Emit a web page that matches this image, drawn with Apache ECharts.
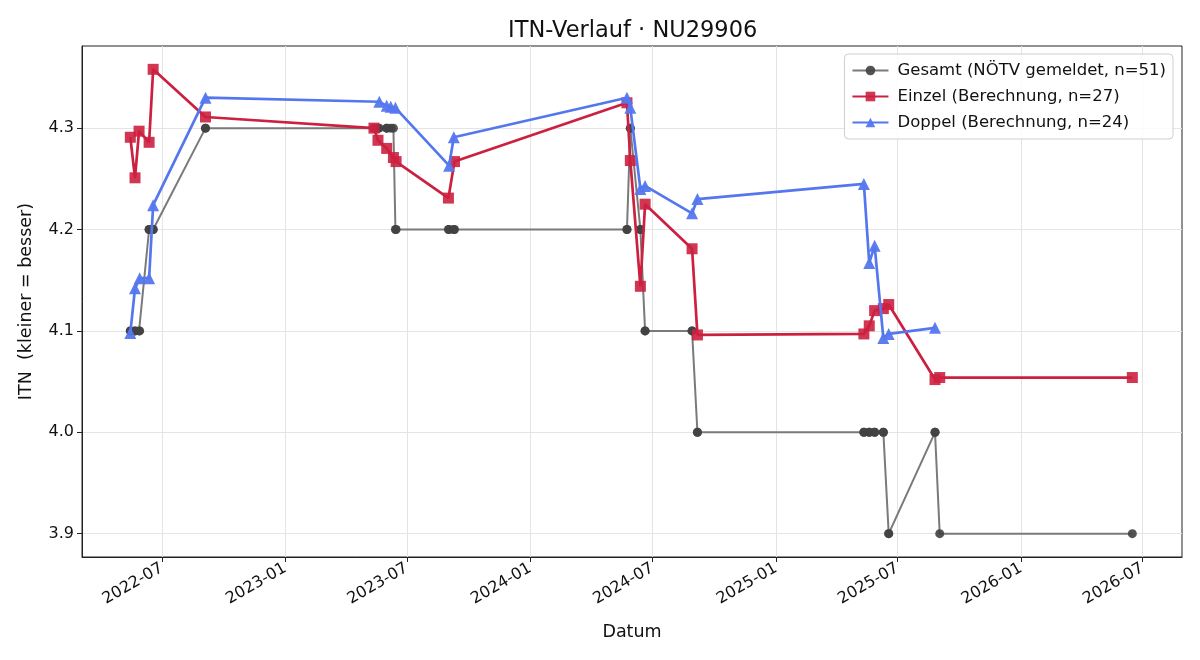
<!DOCTYPE html>
<html>
<head>
<meta charset="utf-8">
<title>ITN-Verlauf</title>
<script src="https://cdn.jsdelivr.net/npm/echarts@6/dist/echarts.min.js"></script>
<style>
  html, body { margin: 0; padding: 0; background: #fff; }
  #chart { width: 1200px; height: 660px; }
</style>
</head>
<body>
<div id="chart"></div>
<script>
// Gesamt (NÖTV gemeldet)
const gesamtDates = [
  '2022-05-15', '2022-05-15', '2022-05-22', '2022-05-22', '2022-05-28', '2022-05-29',
  '2022-06-12', '2022-06-12', '2022-06-18', '2022-06-18', '2022-09-04', '2022-09-04',
  '2023-05-13', '2023-05-19', '2023-05-21', '2023-06-01', '2023-06-01', '2023-06-07',
  '2023-06-11', '2023-06-14', '2023-06-15', '2023-09-01', '2023-09-02', '2023-09-09',
  '2023-09-10',
  '2024-05-24', '2024-05-24', '2024-05-29', '2024-05-29', '2024-06-13', '2024-06-13',
  '2024-06-20', '2024-06-20', '2024-08-29', '2024-08-29', '2024-09-06', '2024-09-06',
  '2025-05-12', '2025-05-12', '2025-05-20', '2025-05-20', '2025-05-28', '2025-05-28',
  '2025-06-10', '2025-06-10', '2025-06-18', '2025-06-18', '2025-08-26', '2025-08-26',
  '2025-09-02', '2026-06-16'
];
const gesamtValues = [
  4.1, 4.1, 4.1, 4.1, 4.1, 4.1,
  4.2, 4.2, 4.2, 4.2, 4.3, 4.3,
  4.3, 4.3, 4.3, 4.3, 4.3, 4.3,
  4.3, 4.2, 4.2, 4.2, 4.2, 4.2,
  4.2,
  4.2, 4.2, 4.3, 4.3, 4.2, 4.2,
  4.1, 4.1, 4.1, 4.1, 4.0, 4.0,
  4.0, 4.0, 4.0, 4.0, 4.0, 4.0,
  4.0, 4.0, 3.9, 3.9, 4.0, 4.0,
  3.9, 3.9
];

// Einzel (Berechnung)
const einzelDates = [
  '2022-05-15', '2022-05-22', '2022-05-28', '2022-06-12', '2022-06-18', '2022-09-04',
  '2023-05-13', '2023-05-19', '2023-06-01', '2023-06-11', '2023-06-15', '2023-09-01',
  '2023-09-10',
  '2024-05-24', '2024-05-29', '2024-06-13', '2024-06-20', '2024-08-29', '2024-09-06',
  '2025-05-12', '2025-05-20', '2025-05-28', '2025-06-10', '2025-06-18', '2025-08-26',
  '2025-09-02', '2026-06-16'
];
const einzelValues = [
  4.291, 4.251, 4.297, 4.286, 4.358, 4.311,
  4.300, 4.288, 4.280, 4.271, 4.267, 4.231,
  4.267,
  4.325, 4.268, 4.144, 4.225, 4.181, 4.096,
  4.097, 4.105, 4.120, 4.122, 4.126, 4.052,
  4.054, 4.054
];

// Doppel (Berechnung)
const doppelDates = [
  '2022-05-15', '2022-05-22', '2022-05-29', '2022-06-12', '2022-06-18', '2022-09-04',
  '2023-05-21', '2023-06-01', '2023-06-07', '2023-06-14', '2023-09-02', '2023-09-09',
  '2024-05-24', '2024-05-29', '2024-06-13', '2024-06-20', '2024-08-29', '2024-09-06',
  '2025-05-12', '2025-05-20', '2025-05-28', '2025-06-10', '2025-06-18', '2025-08-26'
];
const doppelValues = [
  4.098, 4.142, 4.152, 4.152, 4.224, 4.330,
  4.326, 4.322, 4.321, 4.320, 4.263, 4.291,
  4.330, 4.320, 4.240, 4.243, 4.216, 4.230,
  4.245, 4.167, 4.184, 4.093, 4.097, 4.103
];

const xTickDates = [
  '2022-07-01', '2023-01-01', '2023-07-01', '2024-01-01', '2024-07-01',
  '2025-01-01', '2025-07-01', '2026-01-01', '2026-07-01'
];
const yTicks = [3.9, 4.0, 4.1, 4.2, 4.3];

function ts(s) {
  return new Date(s + 'T00:00:00').getTime();
}
function pairs(dates, values) {
  return dates.map(function (d, i) { return [ts(d), values[i]]; });
}

const font = 'DejaVu Sans, Liberation Sans, sans-serif';
const xTicks = xTickDates.map(ts);

const chart = echarts.init(document.getElementById('chart'));
chart.setOption({
  animation: false,
  backgroundColor: '#fff',
  textStyle: { fontFamily: font },
  title: {
    text: 'ITN-Verlauf · NU29906',
    left: 503,
    top: 15,
    textStyle: { fontFamily: font, fontSize: 22.5, fontWeight: 'normal', color: '#111' }
  },
  legend: {
    orient: 'vertical',
    right: 27,
    top: 54,
    padding: [8, 7, 8, 7],
    itemGap: 9,
    itemWidth: 36,
    itemHeight: 12,
    borderColor: '#cfcfcf',
    borderWidth: 1,
    borderRadius: 4,
    backgroundColor: 'rgba(255,255,255,0.85)',
    textStyle: { fontFamily: font, fontSize: 16.5, color: '#111', padding: [0, 0, 0, 4] },
    data: ['Gesamt (NÖTV gemeldet, n=51)', 'Einzel (Berechnung, n=27)', 'Doppel (Berechnung, n=24)']
  },
  grid: {
    left: 82, right: 18, top: 46, bottom: 103,
    show: true, borderColor: '#222', borderWidth: 1
  },
  xAxis: {
    type: 'value',
    min: ts('2022-03-04'),
    max: ts('2026-08-29'),
    name: 'Datum',
    nameLocation: 'middle',
    nameGap: 66,
    nameTextStyle: { fontFamily: font, fontSize: 17.5, color: '#111' },
    axisLine: { show: true, lineStyle: { color: '#222' } },
    axisTick: { show: true, inside: false, length: 5, customValues: xTicks, lineStyle: { color: '#222' } },
    axisLabel: {
      customValues: xTicks,
      rotate: 30,
      margin: 10,
      fontFamily: font,
      fontSize: 16,
      color: '#111',
      formatter: function (v) {
        const d = new Date(v);
        return d.getFullYear() + '-' + String(d.getMonth() + 1).padStart(2, '0');
      }
    },
    splitLine: { show: true, lineStyle: { color: '#e4e4e4', width: 1 } }
  },
  yAxis: {
    type: 'value',
    min: 3.877,
    max: 4.381,
    name: 'ITN  (kleiner = besser)',
    nameLocation: 'middle',
    nameGap: 47,
    nameTextStyle: { fontFamily: font, fontSize: 17.5, color: '#111' },
    axisLine: { show: true, lineStyle: { color: '#222' } },
    axisTick: { show: true, inside: false, length: 5, customValues: yTicks, lineStyle: { color: '#222' } },
    axisLabel: {
      customValues: yTicks,
      margin: 8,
      fontFamily: font,
      fontSize: 16,
      color: '#111',
      formatter: function (v) { return v.toFixed(1); }
    },
    splitLine: { show: true, lineStyle: { color: '#e4e4e4', width: 1 } }
  },
  series: [
    {
      name: 'Gesamt (NÖTV gemeldet, n=51)',
      type: 'line',
      data: pairs(gesamtDates, gesamtValues),
      symbol: 'circle',
      symbolSize: 9,
      showAllSymbol: true,
      lineStyle: { color: '#7a7a7a', width: 2 },
      itemStyle: { color: '#414141', opacity: 0.9 },
      z: 2
    },
    {
      name: 'Einzel (Berechnung, n=27)',
      type: 'line',
      data: pairs(einzelDates, einzelValues),
      symbol: 'rect',
      symbolSize: 11,
      showAllSymbol: true,
      lineStyle: { color: '#cc2040', width: 2.7 },
      itemStyle: { color: '#cc2040', opacity: 0.9 },
      z: 3
    },
    {
      name: 'Doppel (Berechnung, n=24)',
      type: 'line',
      data: pairs(doppelDates, doppelValues),
      symbol: 'triangle',
      symbolSize: 12,
      showAllSymbol: true,
      lineStyle: { color: '#5577ee', width: 2.7 },
      itemStyle: { color: '#5577ee', opacity: 0.95 },
      z: 4
    }
  ]
});
</script>
</body>
</html>
